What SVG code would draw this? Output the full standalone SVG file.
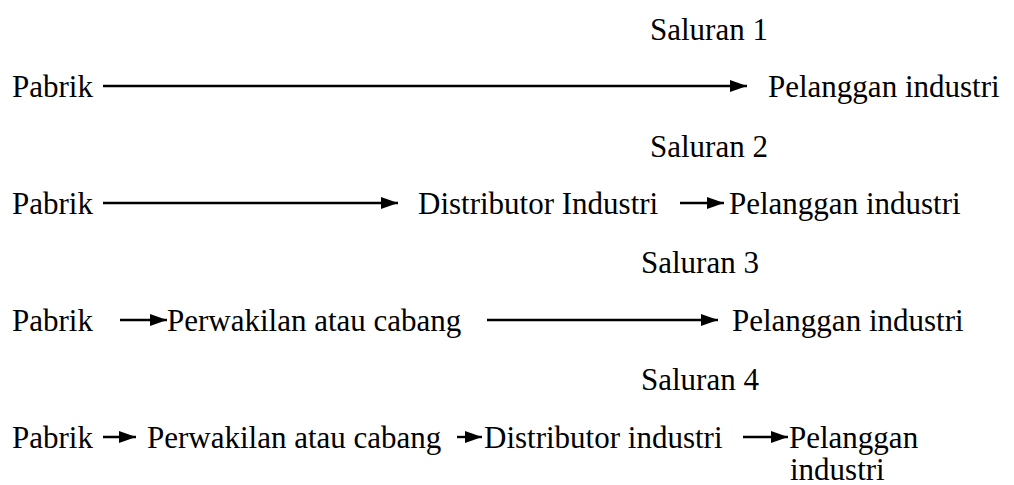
<svg xmlns="http://www.w3.org/2000/svg" width="1014" height="485" viewBox="0 0 1014 485">
<style>
.c line{stroke:#000;stroke-width:2.4;marker-end:url(#ah)}
</style>
<defs>
<marker id="ah" markerUnits="userSpaceOnUse" markerWidth="20" markerHeight="14" refX="17" refY="7" orient="auto">
<path d="M0,1 L17,7 L0,13 z" fill="#000"/>
</marker>
</defs>
<rect width="1014" height="485" fill="#fff"/>
<g font-family="Liberation Serif, Times New Roman, serif" font-size="31" fill="#000">
<g id="titles">
<text id="s1" x="650" y="40">Saluran 1</text>
<text id="s2" x="650" y="157">Saluran 2</text>
<text id="s3" x="641" y="273">Saluran 3</text>
<text id="s4" x="641" y="390">Saluran 4</text>
</g>
<g id="n1a"><text x="12" y="97">Pabrik</text></g>
<g id="n1b"><text x="768" y="97">Pelanggan industri</text></g>
<g id="n2a"><text x="12" y="214">Pabrik</text></g>
<g id="n2b"><text x="418" y="214">Distributor Industri</text></g>
<g id="n2c"><text x="729" y="214">Pelanggan industri</text></g>
<g id="n3a"><text x="12" y="331">Pabrik</text></g>
<g id="n3b"><text x="167" y="331">Perwakilan atau cabang</text></g>
<g id="n3c"><text x="732" y="331">Pelanggan industri</text></g>
<g id="n4a"><text x="12" y="448">Pabrik</text></g>
<g id="n4b"><text x="147" y="448">Perwakilan atau cabang</text></g>
<g id="n4c"><text x="484" y="448">Distributor industri</text></g>
<g id="n4d"><text x="789" y="448">Pelanggan</text><text x="790" y="480">industri</text></g>
</g>
<g id="connectors" class="c">
<line x1="103" y1="86" x2="747" y2="86"/>
<line x1="103" y1="203" x2="398" y2="203"/>
<line x1="680" y1="203" x2="724" y2="203"/>
<line x1="120" y1="320" x2="167" y2="320"/>
<line x1="487" y1="320" x2="718" y2="320"/>
<line x1="103" y1="437" x2="136" y2="437"/>
<line x1="457" y1="437" x2="482" y2="437"/>
<line x1="743" y1="437" x2="788" y2="437"/>
</g>
</svg>
